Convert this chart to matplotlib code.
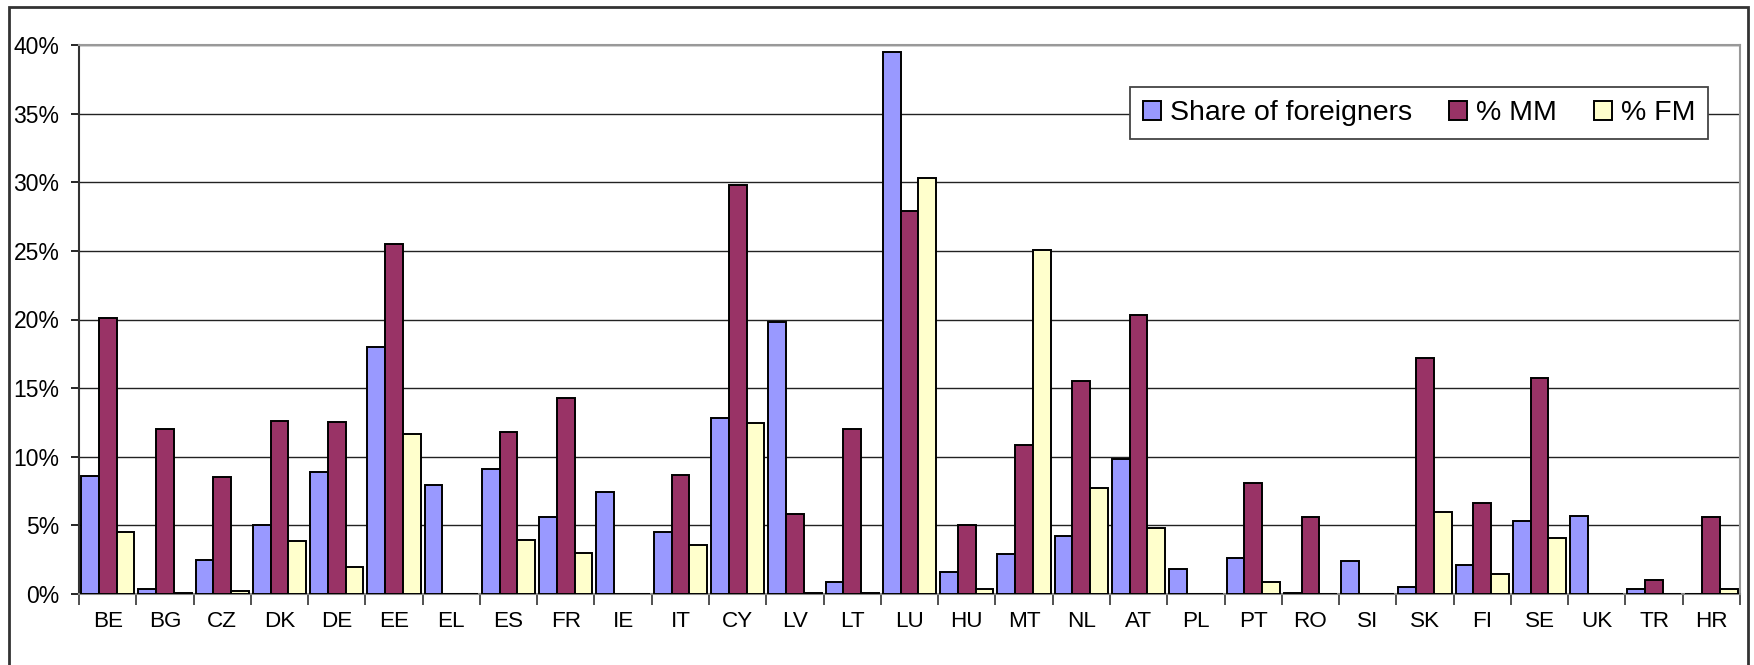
import matplotlib.pyplot as plt
import numpy as np
from matplotlib.patches import Rectangle
from matplotlib.ticker import PercentFormatter

plt.rcParams['font.family'] = ['Liberation Sans', 'DejaVu Sans']

# data (percent)
countries = ["BE", "BG", "CZ", "DK", "DE", "EE", "EL", "ES", "FR", "IE", "IT", "CY", "LV", "LT", "LU",
             "HU", "MT", "NL", "AT", "PL", "PT", "RO", "SI", "SK", "FI", "SE", "UK", "TR", "HR"]
share_foreigners = [8.6, 0.4, 2.5, 5.0, 8.9, 18.0, 7.95, 9.1, 5.6, 7.4, 4.5, 12.8, 19.8, 0.9, 39.5,
                    1.6, 2.9, 4.2, 9.8, 1.85, 2.6, 0.1, 2.4, 0.5, 2.1, 5.3, 5.7, 0.4, 0.0]
pct_mm = [20.1, 12.0, 8.5, 12.6, 12.5, 25.5, 0.0, 11.8, 14.3, 0.0, 8.7, 29.8, 5.8, 12.0, 27.9,
          5.0, 10.85, 15.5, 20.3, 0.0, 8.1, 5.6, 0.0, 17.2, 6.6, 15.75, 0.0, 1.05, 5.6]
pct_fm = [4.5, 0.1, 0.25, 3.85, 2.0, 11.65, 0.0, 3.95, 3.0, 0.0, 3.6, 12.45, 0.1, 0.1, 30.3,
          0.4, 25.1, 7.7, 4.8, 0.0, 0.9, 0.0, 0.0, 5.95, 1.45, 4.1, 0.0, 0.0, 0.4]

fig = plt.figure(figsize=(17.54, 6.65), dpi=100)
ax = fig.add_axes([79 / 1754, 1 - 594 / 665, (1740 - 79) / 1754, (594 - 45) / 665])

x = np.arange(len(countries))
w = 0.31
ax.bar(x - w, share_foreigners, w, color="#9999FF", edgecolor="black", linewidth=1.4,
       label="Share of foreigners", zorder=3)
ax.bar(x, pct_mm, w, color="#993366", edgecolor="black", linewidth=1.4, label="% MM", zorder=3)
ax.bar(x + w, pct_fm, w, color="#FFFFCC", edgecolor="black", linewidth=1.4, label="% FM", zorder=3)

ax.set_xlim(-0.5, len(countries) - 0.5)
ax.set_ylim(0, 40)
ax.set_yticks(np.arange(0, 41, 5))
ax.yaxis.set_major_formatter(PercentFormatter(decimals=0))
ax.yaxis.grid(True, color="#222222", linewidth=1.0, zorder=0)

ax.set_xticks(x)
ax.set_xticklabels(countries)
ax.set_xticks(np.arange(len(countries) + 1) - 0.5, minor=True)
ax.tick_params(axis="x", which="major", length=0, pad=12, labelsize=16.2)
ax.tick_params(axis="x", which="minor", length=8, width=1.2, color="#333333")
ax.tick_params(axis="y", length=6, width=1.2, pad=8, labelsize=16.5)

for side in ["top", "right"]:
    ax.spines[side].set_color("#999999")
    ax.spines[side].set_linewidth(1.5)
ax.spines["left"].set_color("#333333")
ax.spines["left"].set_linewidth(1.5)
ax.spines["bottom"].set_color("#888888")
ax.spines["bottom"].set_linewidth(1.5)

leg = ax.legend(ncol=3, loc="upper right", bbox_to_anchor=(0.981, 0.9235), fontsize=20.5,
                frameon=True, fancybox=False, edgecolor="#444444", framealpha=1,
                handlelength=0.65, handleheight=0.65, handletextpad=0.3, columnspacing=1.3,
                borderpad=0.46, borderaxespad=0)
leg.get_frame().set_linewidth(1.3)

# outer chart frame
fig.patches.append(Rectangle((9, -20), 1739, 665 + 20 - 7, transform=None, fill=False,
                             edgecolor="#333333", linewidth=2))

fig.savefig("out.png", dpi=100, facecolor="white")
